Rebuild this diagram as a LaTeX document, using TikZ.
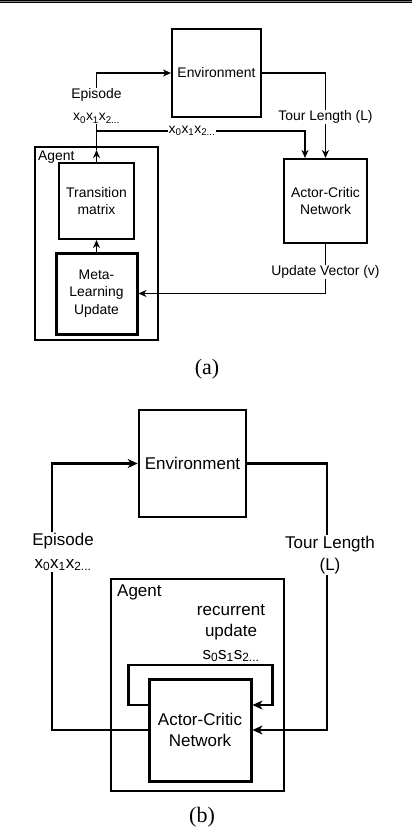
\documentclass[tikz,border=0pt]{standalone}
\usepackage{fontspec}
\setmainfont{Liberation Serif}
\newfontfamily\arialf{Liberation Sans}
\usetikzlibrary{arrows.meta}
\begin{document}
\begin{tikzpicture}[x=1pt,y=-1pt,
  fa/.style={font=\arialf\fontsize{13.9}{17.5}\selectfont},
  fb/.style={font=\arialf\fontsize{17}{21.5}\selectfont},
  boxa/.style={draw,line width=2pt,minimum width=#1,inner sep=0pt,align=center,fa},
  conna/.style={line width=1.6pt},
  arra/.style={conna,-{Stealth[length=8pt,width=7pt,inset=2.5pt]}},
  connb/.style={line width=2.4pt},
  arrb/.style={connb,-{Stealth[length=10pt,width=9pt,inset=3pt]}},
  lbla/.style={fa,fill=white,inner sep=1pt,align=center},
  lblb/.style={fb,fill=white,inner sep=1pt,align=center},
  captxt/.style={font=\fontsize{22}{26}\selectfont}
]
\useasboundingbox (0,0) rectangle (412,832);
% top rule
\fill[black] (0,0) rectangle (412,3.4);
\fill[gray] (0,1.2) rectangle (412,2.3);

% ---------------- (a) ----------------
\node[boxa=89pt,minimum height=88pt] (env) at (216.5,73) {Environment};
\node[draw,line width=2pt,minimum width=123pt,minimum height=193pt] (agentA) at (96.5,243.5) {};
\node[fa,anchor=west,inner sep=0pt] (agentAl) at (38,157) {Agent};
\node[boxa=75pt,minimum height=76pt] (tm) at (96.5,201) {Transition\\matrix};
\node[boxa=81pt,minimum height=81pt,line width=3pt] (ml) at (96.5,293.5) {Meta-\\Learning\\Update};
\node[boxa=83pt,minimum height=84pt] (acA) at (325.5,201) {Actor-Critic\\Network};

\coordinate (jA) at (96.5,150);
\coordinate (jB) at (96.5,131);
\coordinate (acIn) at ([xshift=-20.5pt]acA.north);

\draw[arra] (tm.north) -- (jA);
\draw[arra] (jA) |- (env.west);
\draw[arra] (jB) -| (acIn);
\draw[arra] (env.east) -| (acA.north);
\draw[arra] (acA.south) |- (ml.east);
\draw[arra] (ml.north) -- (tm.south);

\node[lbla] (epA) at (96.5,106) {Episode\\[4.5pt]x\textsubscript{0}x\textsubscript{1}x\textsubscript{2...}};
\node[lbla] (xsA) at (192,131) {x\textsubscript{0}x\textsubscript{1}x\textsubscript{2...}};
\node[lbla] (tlA) at (325.5,117) {Tour Length (L)};
\node[lbla] (uvA) at (325.5,272) {Update Vector (v)};

\node[captxt] (capA) at (207,369) {(a)};

% ---------------- (b) ----------------
\node[draw,line width=2.6pt,minimum width=107pt,minimum height=107pt,inner sep=0pt,fb] (envB) at (192.5,463.5) {Environment};
\node[draw,line width=2pt,minimum width=173pt,minimum height=212pt] (agentB) at (197.5,685) {};
\node[fb,anchor=west,inner sep=0pt] (agentBl) at (117,592) {Agent};
\node[fb,align=center,inner sep=0pt] (rec) at (231,633) {recurrent\\update\\[1pt]s\textsubscript{0}s\textsubscript{1}s\textsubscript{2...}};
\node[draw,line width=3pt,minimum width=102pt,minimum height=102pt,inner sep=0pt,align=center,fb] (acB) at (200,730) {Actor-Critic\\Network};

\coordinate (lx) at (52,0);
\coordinate (rx) at (327,0);

\draw[arrb] (acB.west) -- (acB.west -| lx) |- (envB.west);
\draw[arrb] (envB.east) -| (acB.east -| rx) -- (acB.east);
\draw[arrb] ([yshift=25pt]acB.west) -- ++(-19,0) -- ++(0,-40) -- ++(144,0) -- ++(0,40) -- ([yshift=25pt]acB.east);

\node[lblb] (epB) at (63,552) {Episode\\[1pt]x\textsubscript{0}x\textsubscript{1}x\textsubscript{2...}};
\node[lblb] (tlB) at (330,555) {Tour Length\\(L)};

\node[captxt] (capB) at (202,817) {(b)};
\end{tikzpicture}
\end{document}
